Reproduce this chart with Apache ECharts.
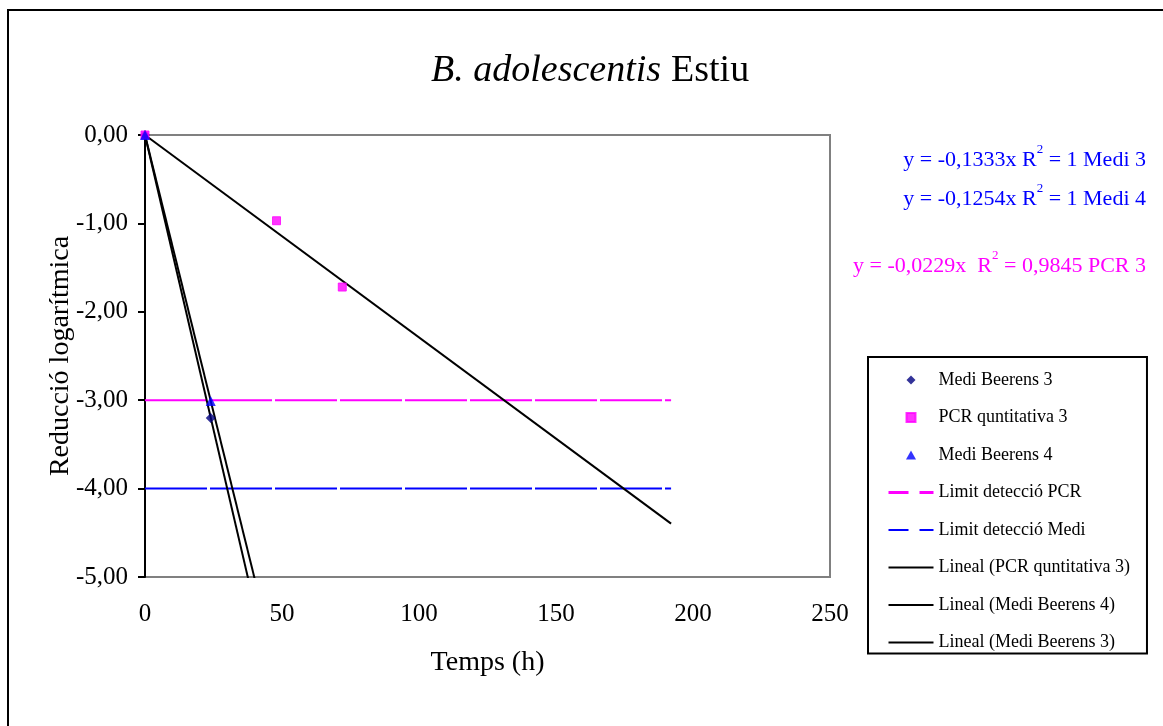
<!DOCTYPE html>
<html lang="ca">
<head>
  <meta charset="utf-8">
  <title>B. adolescentis Estiu</title>
  <script src="https://cdn.jsdelivr.net/npm/echarts@6/dist/echarts.min.js"></script>
  <style>
    html, body { margin: 0; padding: 0; background: #fff; }
    #chart { width: 1163px; height: 726px; }
  </style>
</head>
<body>
  <div id="chart"></div>
  <script>
    // dades llegides del gràfic
    var medi3X = [0, 24];
    var medi3Y = [0, -3.2];
    var pcr3X = [0, 48, 72];
    var pcr3Y = [0, -0.97, -1.72];
    var medi4X = [0, 24];
    var medi4Y = [0, -3.01];

    var limitPCR = -3;
    var limitMedi = -4;
    var lineXRange = [0, 192];   // abast de les rectes (límits i tendències)

    // pendents de les regressions (per l'origen)
    var slopeMedi3 = -0.1333;
    var slopeMedi4 = -0.1254;
    var slopePCR3 = -0.0229;

    var equations = [
      ['y = -0,1333x R', ' = 1 Medi 3'],
      ['y = -0,1254x R', ' = 1 Medi 4'],
      ['y = -0,0229x  R', ' = 0,9845 PCR 3']
    ];

    var xMin = 0, xMax = 250, xStep = 50;
    var yMin = -5, yMax = 0, yStep = 1;

    var serif = '"Liberation Serif", "Times New Roman", serif';

    function pairs(xs, ys) {
      return xs.map(function (x, i) { return [x, ys[i]]; });
    }
    function flat(y) {
      return lineXRange.map(function (x) { return [x, y]; });
    }
    function trend(k) {
      return lineXRange.map(function (x) { return [x, k * x]; });
    }

    // icones de la llegenda (sense el cercle que posa la sèrie de línia)
    var noDot = { color: 'rgba(0,0,0,0)', borderColor: 'rgba(0,0,0,0)', borderWidth: 0 };

    var myChart = echarts.init(document.getElementById('chart'));

    var option = {
      backgroundColor: '#fff',
      animation: false,
      title: {
        text: '{i|B. adolescentis}  {n|Estiu}',
        left: 426,
        top: 47,
        textStyle: {
          rich: {
            i: { fontFamily: serif, fontSize: 38, fontStyle: 'italic', fontWeight: 'normal', color: '#000' },
            n: { fontFamily: serif, fontSize: 38, fontWeight: 'normal', color: '#000' }
          }
        }
      },
      grid: {
        left: 145, top: 135, width: 685, height: 442,
        show: true, borderColor: '#808080', borderWidth: 2
      },
      legend: {
        orient: 'vertical',
        left: 868, top: 357,
        padding: [14, 17, 2, 19],
        itemGap: 19.5,
        itemWidth: 45,
        itemHeight: 9,
        symbolKeepAspect: true,
        borderColor: '#000',
        borderWidth: 2,
        backgroundColor: '#fff',
        textStyle: { fontFamily: serif, fontSize: 18, color: '#000', lineHeight: 18 },
        data: [
          { name: 'Medi Beerens 3', icon: 'path://M5,0L10,5L5,10L0,5Z' },
          { name: 'PCR quntitativa 3', icon: 'path://M0,0h10v10h-10z' },
          { name: 'Medi Beerens 4', icon: 'path://M5,0L10,9L0,9Z' },
          { name: 'Limit detecció PCR', itemStyle: noDot, lineStyle: { type: [20, 11], width: 3 } },
          { name: 'Limit detecció Medi', itemStyle: noDot, lineStyle: { type: [20, 11], width: 2 } },
          { name: 'Lineal (PCR quntitativa 3)', itemStyle: noDot },
          { name: 'Lineal (Medi Beerens 4)', itemStyle: noDot },
          { name: 'Lineal (Medi Beerens 3)', itemStyle: noDot }
        ]
      },
      xAxis: {
        type: 'value',
        min: xMin, max: xMax, interval: xStep,
        name: 'Temps (h)',
        nameLocation: 'middle',
        nameGap: 72,
        nameMoveOverlap: false,
        nameTextStyle: { fontFamily: serif, fontSize: 28, color: '#000' },
        axisLine: { show: true, lineStyle: { color: '#808080', width: 2 } },
        axisTick: { show: false },
        splitLine: { show: false },
        axisLabel: { fontFamily: serif, fontSize: 25, color: '#000', margin: 25 }
      },
      yAxis: {
        type: 'value',
        min: yMin, max: yMax, interval: yStep,
        name: 'Reducció logarítmica',
        nameLocation: 'middle',
        nameGap: 70,
        nameMoveOverlap: false,
        nameTextStyle: { fontFamily: serif, fontSize: 28, color: '#000' },
        axisLine: { show: true, onZero: false, lineStyle: { color: '#000', width: 2 } },
        axisTick: { show: true, length: 7, lineStyle: { color: '#000', width: 2 } },
        splitLine: { show: false },
        axisLabel: {
          fontFamily: serif, fontSize: 25, color: '#000', margin: 17,
          formatter: function (v) { return v.toFixed(2).replace('.', ','); }
        }
      },
      graphic: [
        {
          type: 'rect', silent: true, z: -10,
          shape: { x: 8, y: 10, width: 1180, height: 740 },
          style: { fill: 'none', stroke: '#000', lineWidth: 2 }
        }
      ].concat(equations.map(function (eq, i) {
        var col = i < 2 ? '#0000FF' : '#FF00FF';
        var tops = [143, 182, 249];
        return {
          type: 'text',
          right: 17,
          top: tops[i],
          style: {
            text: '{a|' + eq[0] + '}{s|2}{a|' + eq[1] + '}',
            rich: {
              a: { fontFamily: serif, fontSize: 22, fill: col, color: col, lineHeight: 28, verticalAlign: 'bottom' },
              s: { fontFamily: serif, fontSize: 13, fill: col, color: col, lineHeight: 28, verticalAlign: 'top' }
            }
          }
        };
      })),
      series: [
        {
          name: 'Medi Beerens 3', type: 'scatter', z: 5,
          symbol: 'diamond', symbolSize: 10,
          itemStyle: { color: '#000080' },
          data: pairs(medi3X, medi3Y)
        },
        {
          name: 'PCR quntitativa 3', type: 'scatter', z: 5,
          symbol: 'rect', symbolSize: 8,
          itemStyle: { color: '#FF00FF', borderColor: '#FF00FF', borderWidth: 1 },
          data: pairs(pcr3X, pcr3Y)
        },
        {
          name: 'Medi Beerens 4', type: 'scatter', z: 5,
          symbol: 'triangle', symbolSize: 10,
          itemStyle: { color: '#0000FF' },
          data: pairs(medi4X, medi4Y)
        },
        {
          name: 'Limit detecció PCR', type: 'line', z: 3,
          symbol: 'none', color: '#FF00FF',
          lineStyle: { color: '#FF00FF', width: 2, type: [62, 3] },
          data: flat(limitPCR)
        },
        {
          name: 'Limit detecció Medi', type: 'line', z: 3,
          symbol: 'none', color: '#0000FF',
          lineStyle: { color: '#0000FF', width: 2, type: [62, 3] },
          data: flat(limitMedi)
        },
        {
          name: 'Lineal (PCR quntitativa 3)', type: 'line', z: 4,
          symbol: 'none', color: '#000',
          lineStyle: { color: '#000', width: 2 },
          data: trend(slopePCR3)
        },
        {
          name: 'Lineal (Medi Beerens 4)', type: 'line', z: 4,
          symbol: 'none', color: '#000', clip: true,
          lineStyle: { color: '#000', width: 2 },
          data: trend(slopeMedi4)
        },
        {
          name: 'Lineal (Medi Beerens 3)', type: 'line', z: 4,
          symbol: 'none', color: '#000', clip: true,
          lineStyle: { color: '#000', width: 2 },
          data: trend(slopeMedi3)
        }
      ]
    };

    myChart.setOption(option);
  </script>
</body>
</html>
